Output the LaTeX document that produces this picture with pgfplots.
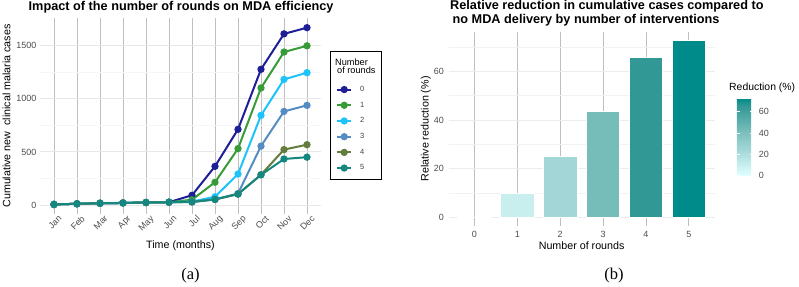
\documentclass[border=0pt]{standalone}
\usepackage{fontspec}
\setmainfont{Liberation Sans}
\newfontfamily\serifA{Liberation Serif}
\usepackage{pgfplots}
\pgfplotsset{compat=1.18}
\definecolor{gray30}{RGB}{77,77,77}
\definecolor{c0}{RGB}{30,30,150}
\definecolor{c1}{RGB}{55,155,55}
\definecolor{c2}{RGB}{30,195,250}
\definecolor{c3}{RGB}{85,140,195}
\definecolor{c4}{RGB}{100,125,60}
\definecolor{c5}{RGB}{20,135,128}
\definecolor{b0}{RGB}{224,255,255}
\definecolor{b1}{RGB}{200,239,238}
\definecolor{b2}{RGB}{163,214,214}
\definecolor{b3}{RGB}{118,188,185}
\definecolor{b4}{RGB}{49,152,149}
\definecolor{b5}{RGB}{0,139,139}
\newcommand{\fs}[1]{\fontsize{#1}{#1}\selectfont}
\begin{document}
\begin{tikzpicture}
\path[use as bounding box] (0,0) rectangle (799pt,-286pt);
% ---------------- left panel
\begin{axis}[
  scale only axis, width=280.6pt, height=195.2pt,
  at={(40.2pt,-213.6pt)}, anchor=south west,
  xmin=0.4, xmax=12.6, ymin=-78, ymax=1752,
  axis line style={draw=none}, tick style={draw=none},
  xtick={1,...,12}, xticklabels={Jan,Feb,Mar,Apr,May,Jun,Jul,Aug,Sep,Oct,Nov,Dec},
  ytick={0,500,1000,1500}, minor ytick={250,750,1250},
  xmajorgrids, ymajorgrids, yminorgrids,
  major x grid style={gray!50, line width=0.9pt},
  major y grid style={gray!18, line width=0.9pt},
  minor y grid style={gray!8, line width=0.6pt},
  /pgf/number format/assume math mode=true,
  /pgf/number format/1000 sep={},
  xticklabel style={rotate=45, anchor=north east, font=\fs{9}, text=gray30, inner sep=0.5pt, xshift=2.5pt, yshift=-3pt},
  yticklabel style={font=\fs{9}, text=gray30, inner sep=0pt, xshift=-3.5pt},
  xlabel={Time (months)}, ylabel={Cumulative new\ \ clinical malaria cases},
  label style={font=\fs{10.7}},
  xlabel style={at={(axis description cs:0.5,-0.1644)}, anchor=center},
  ylabel style={at={(axis description cs:-0.120,0.5)}, anchor=center},
  legend style={at={(axis description cs:1.0542,0.6537)}, anchor=north west,
    draw=none, fill=none, font=\fs{7.5}, text=black!75, inner sep=0pt,
    nodes={inner sep=0pt}, row sep=9pt, column sep=8pt},
  legend cell align=left,
  legend image code/.code={\draw[mark repeat=2,mark phase=2,#1] plot coordinates {(0pt,0pt) (7pt,0pt) (14pt,0pt)};},
  every axis plot/.append style={line width=2pt, mark=*, mark size=2.6pt},
]
\addplot[c0, mark options={fill=c0}] coordinates {(1,8)(2,14)(3,19)(4,22)(5,26)(6,29)(7,94)(8,365)(9,712)(10,1275)(11,1607)(12,1665)};
\addlegendentry{0}
\addplot[c1, mark options={fill=c1}] coordinates {(1,8)(2,14)(3,19)(4,22)(5,26)(6,29)(7,52)(8,216)(9,531)(10,1100)(11,1437)(12,1495)};
\addlegendentry{1}
\addplot[c2, mark options={fill=c2}] coordinates {(1,8)(2,14)(3,19)(4,22)(5,26)(6,29)(7,35)(8,80)(9,293)(10,843)(11,1180)(12,1243)};
\addlegendentry{2}
\addplot[c3, mark options={fill=c3}] coordinates {(1,8)(2,14)(3,19)(4,22)(5,26)(6,29)(7,32)(8,55)(9,110)(10,555)(11,880)(12,937)};
\addlegendentry{3}
\addplot[c4, mark options={fill=c4}] coordinates {(1,8)(2,14)(3,19)(4,22)(5,26)(6,29)(7,32)(8,55)(9,105)(10,287)(11,522)(12,568)};
\addlegendentry{4}
\addplot[c5, mark options={fill=c5}] coordinates {(1,8)(2,14)(3,19)(4,22)(5,26)(6,29)(7,31)(8,55)(9,105)(10,285)(11,434)(12,451)};
\addlegendentry{5}
\end{axis}
% ---------------- right panel
\begin{axis}[
  scale only axis, width=266pt, height=194.2pt,
  at={(448.6pt,-226.1pt)}, anchor=south west,
  xmin=-0.6, xmax=5.6, ymin=-3.6, ymax=76.3,
  axis line style={draw=none}, tick style={draw=none},
  xtick={0,...,5}, ytick={0,20,40,60}, minor ytick={10,30,50,70},
  xmajorgrids, ymajorgrids, yminorgrids,
  major x grid style={gray!50, line width=0.9pt},
  major y grid style={gray!15, line width=0.9pt},
  minor y grid style={gray!10, line width=0.7pt},
  /pgf/number format/assume math mode=true,
  xticklabel style={font=\fs{9}, text=gray30, inner sep=0pt, yshift=-5.4pt},
  yticklabel style={font=\fs{9}, text=gray30, inner sep=0pt, xshift=-4.6pt},
  xlabel={Number of rounds}, ylabel={Relative reduction (\%)},
  label style={font=\fs{10.7}},
  xlabel style={at={(axis description cs:0.5,-0.0999)}, anchor=center},
  ylabel style={at={(axis description cs:-0.0853,0.5)}, anchor=center},
  colormap={tealcm}{rgb255(0cm)=(224,255,255); rgb255(10cm)=(200,239,238); rgb255(25cm)=(163,214,214); rgb255(43cm)=(118,188,185); rgb255(66cm)=(49,152,149); rgb255(73cm)=(0,139,139)},
  point meta min=0, point meta max=72.8,
  colorbar,
  colorbar style={
    at={(parent axis.north west)}, anchor=north west, xshift=279.7pt, yshift=-66.3pt,
    scale only axis, width=16.7pt, height=77.4pt,
    axis line style={draw=none},
    ytick={0,20,40,60}, yticklabel pos=right,
    tick align=inside, major tick length=3.3pt,
    ytick style={draw=white, line width=0.7pt},
    yticklabel style={font=\fs{9}, text=gray30, inner sep=0pt, xshift=5pt},
    /pgf/number format/assume math mode=true,
  },
]
\addplot[ybar, bar width=33.5pt, bar shift=0pt, fill=b0, draw=white, line width=0.8pt] coordinates {(0,0)};
\addplot[ybar, bar width=33.5pt, bar shift=0pt, fill=b1, draw=white, line width=0.8pt] coordinates {(1,9.9)};
\addplot[ybar, bar width=33.5pt, bar shift=0pt, fill=b2, draw=white, line width=0.8pt] coordinates {(2,25.2)};
\addplot[ybar, bar width=33.5pt, bar shift=0pt, fill=b3, draw=white, line width=0.8pt] coordinates {(3,43.4)};
\addplot[ybar, bar width=33.5pt, bar shift=0pt, fill=b4, draw=white, line width=0.8pt] coordinates {(4,65.8)};
\addplot[ybar, bar width=33.5pt, bar shift=0pt, fill=b5, draw=white, line width=0.8pt] coordinates {(5,72.8)};
\end{axis}
% ---------------- texts
\node[anchor=base west, font=\fs{12.7}\bfseries, inner sep=0pt] at (28.5pt,-10.7pt) {Impact of the number of rounds on MDA efficiency};
\node[anchor=base west, font=\fs{12.7}\bfseries, inner sep=0pt] at (450pt,-10pt) {Relative reduction in cumulative cases compared to};
\node[anchor=base west, font=\fs{12.7}\bfseries, inner sep=0pt] at (452.5pt,-24pt) {no MDA delivery by number of interventions};
\draw[black, line width=0.9pt] (330.5pt,-51.5pt) rectangle (381.7pt,-179.5pt);
\node[anchor=base west, font=\fs{9.2}, inner sep=0pt] at (335pt,-65.5pt) {Number};
\node[anchor=base west, font=\fs{9.2}, inner sep=0pt] at (337pt,-74pt) {of rounds};
\node[anchor=base west, font=\fs{10.4}, inner sep=0pt] at (729pt,-91pt) {Reduction (\%)};
\node[font=\serifA\fs{16.5}] at (190.5pt,-275.8pt) {(a)};
\node[font=\serifA\fs{16.5}] at (614pt,-275.8pt) {(b)};
\end{tikzpicture}
\end{document}
